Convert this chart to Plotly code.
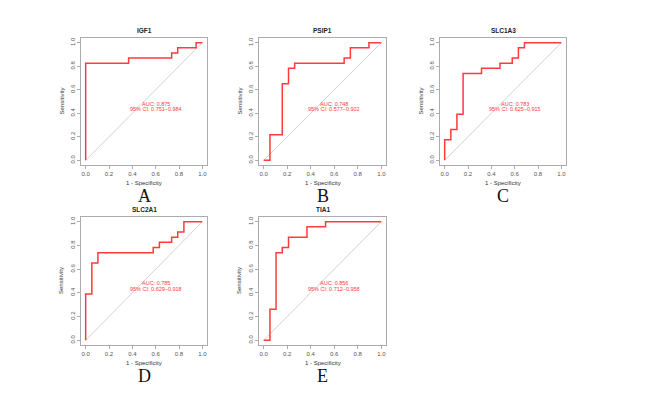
"""ROC curves for five candidate genes (IGF1, PSIP1, SLC1A3, SLC2A1, TIA1).

Five small panels laid out R-style (pROC look): red step curve, grey
chance diagonal, AUC + 95% CI printed inside, panel letter underneath.
"""
from __future__ import annotations

import plotly.graph_objects as go

# ---------------------------------------------------------------------------
# Data (1 - specificity, sensitivity) corner points of each ROC step curve
# ---------------------------------------------------------------------------
GENES = ["IGF1", "PSIP1", "SLC1A3", "SLC2A1", "TIA1"]
LETTERS = ["A", "B", "C", "D", "E"]

IGF1_FPR = [0.0, 0.368, 0.737, 0.789, 0.947, 1.0]
IGF1_TPR = [0.0, 0.826, 0.870, 0.913, 0.957, 1.0]

PSIP1_FPR = [0.0, 0.053, 0.158, 0.211, 0.263, 0.684, 0.737, 0.895, 1.0]
PSIP1_TPR = [0.0, 0.0, 0.217, 0.652, 0.783, 0.826, 0.870, 0.957, 1.0]

SLC1A3_FPR = [0.0, 0.053, 0.105, 0.158, 0.316, 0.474, 0.579, 0.632, 0.684, 1.0]
SLC1A3_TPR = [0.0, 0.174, 0.261, 0.391, 0.739, 0.783, 0.826, 0.870, 0.957, 1.0]

SLC2A1_FPR = [0.0, 0.053, 0.105, 0.579, 0.632, 0.737, 0.789, 0.842, 1.0]
SLC2A1_TPR = [0.0, 0.391, 0.652, 0.739, 0.783, 0.826, 0.870, 0.913, 1.0]

TIA1_FPR = [0.0, 0.053, 0.105, 0.158, 0.211, 0.368, 0.526, 1.0]
TIA1_TPR = [0.0, 0.0, 0.261, 0.739, 0.783, 0.870, 0.957, 1.0]

AUC = ["0.875", "0.748", "0.783", "0.785", "0.856"]
CI = ["0.751\u20130.984", "0.577\u20130.902", "0.625\u20130.915",
      "0.629\u20130.918", "0.712\u20130.958"]

TICKS = [0.0, 0.2, 0.4, 0.6, 0.8, 1.0]

# ---------------------------------------------------------------------------
# Layout (pixels of the 645 x 407 page)
# ---------------------------------------------------------------------------
W, H = 645, 407
# (left, right, top, bottom) of each panel box
BOXES = [
    (81, 207, 38, 165),
    (259, 386, 38, 165),
    (440, 566, 38, 165),
    (81, 207, 217, 345),
    (259, 386, 217, 345),
]

RED = "#ff3b3b"
GREY_BOX = "#ababab"
SANS = "Liberation Sans, Arial, sans-serif"
SERIF = "Liberation Serif, Times New Roman, serif"


def px(x):
    return x / W


def py(y):
    return 1 - y / H


def label(text, x, y, size, color, family=SANS, **kw):
    """Paper-anchored text centred on pixel (x, y)."""
    return dict(
        text=text, x=px(x), y=py(y), xref="paper", yref="paper",
        xanchor="center", yanchor="middle", showarrow=False,
        font=dict(family=family, size=size, color=color), **kw,
    )


def main() -> None:
    curves = [
        (IGF1_FPR, IGF1_TPR),
        (PSIP1_FPR, PSIP1_TPR),
        (SLC1A3_FPR, SLC1A3_TPR),
        (SLC2A1_FPR, SLC2A1_TPR),
        (TIA1_FPR, TIA1_TPR),
    ]

    fig = go.Figure()
    layout = {}
    annotations = []

    for i, (gene, (fpr, tpr)) in enumerate(zip(GENES, curves)):
        n = "" if i == 0 else str(i + 1)
        xa, ya = f"x{n}", f"y{n}"
        left, right, top, bottom = BOXES[i]
        cx = (left + right) / 2

        # ---- chance diagonal ----
        fig.add_trace(go.Scatter(
            x=[0, 1], y=[0, 1], mode="lines",
            line=dict(color="#d2d2d2", width=1),
            xaxis=xa, yaxis=ya, showlegend=False, hoverinfo="skip",
        ))
        # ---- ROC step curve ----
        fig.add_trace(go.Scatter(
            x=fpr, y=tpr, mode="lines",
            line=dict(color=RED, width=1.5, shape="vh"),
            xaxis=xa, yaxis=ya, showlegend=False, name=gene,
        ))

        axis_common = dict(
            range=[-0.04, 1.04], tickvals=TICKS,
            ticktext=[f"{t:.1f}" for t in TICKS],
            showgrid=False, zeroline=False,
            showline=True, mirror=True, linecolor=GREY_BOX, linewidth=1.2,
            ticks="outside", ticklen=3, tickcolor=GREY_BOX, tickwidth=1,
            tickfont=dict(family=SANS, size=6, color="#555555"),
            fixedrange=True,
        )
        layout[f"xaxis{n}"] = dict(
            axis_common, domain=[px(left), px(right)], anchor=ya,
        )
        layout[f"yaxis{n}"] = dict(
            axis_common, domain=[py(bottom), py(top)], anchor=xa,
            tickangle=-90,
        )

        # ---- panel title, axis titles, panel letter ----
        annotations.append(label(f"<b>{gene}</b>", cx, top - 8, 6.5, "#222222"))
        annotations.append(label("1 - Specificity", cx, bottom + 18, 6, "#333333"))
        annotations.append(label("Sensitivity", left - 20, (top + bottom) / 2,
                                 6, "#333333", textangle=-90))
        annotations.append(label(LETTERS[i], cx, bottom + 31, 18, "#111111",
                                 family=SERIF))

        # ---- AUC / CI text (data coords) ----
        annotations.append(dict(
            text=f"AUC: {AUC[i]}", x=0.6, y=0.481, xref=xa, yref=ya,
            xanchor="center", yanchor="middle", showarrow=False,
            font=dict(family=SANS, size=5.5, color=RED),
        ))
        annotations.append(dict(
            text=f"95% CI: {CI[i]}", x=0.6, y=0.435, xref=xa, yref=ya,
            xanchor="center", yanchor="middle", showarrow=False,
            font=dict(family=SANS, size=5.5, color=RED),
        ))

    fig.update_layout(
        **layout,
        annotations=annotations,
        width=W, height=H,
        margin=dict(l=0, r=0, t=0, b=0),
        paper_bgcolor="white", plot_bgcolor="white",
        showlegend=False,
    )
    # drop the browser's default 8px body margin so pixels line up
    fig.write_html(
        "out.html",
        config={"displayModeBar": False},
        post_script="document.body.style.margin='0';",
    )


if __name__ == "__main__":
    main()
